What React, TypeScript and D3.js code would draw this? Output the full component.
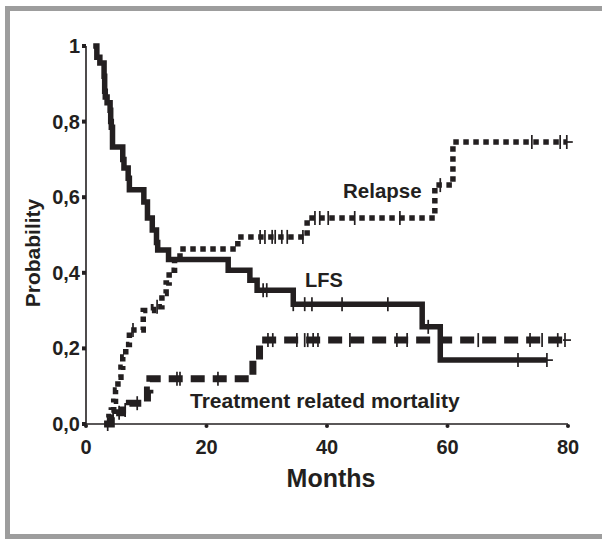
import React from 'react'
import * as d3 from 'd3'

// Kaplan-Meier style step curves: time (months) and probability after each step
const lfsTimes = [1.2, 1.8, 2.3, 3.0, 3.1, 3.2, 3.5, 4.0, 4.1, 4.2, 4.4, 6.1, 6.3, 7.0, 7.2, 9.6, 10.2, 11.0, 11.7, 11.9, 13.7, 23.6, 27.2, 28.4, 34.4, 55.8, 58.8, 76.5]
const lfsProb = [1.0, 0.97, 0.955, 0.92, 0.88, 0.865, 0.85, 0.83, 0.8, 0.785, 0.733, 0.7, 0.677, 0.65, 0.62, 0.587, 0.545, 0.513, 0.48, 0.46, 0.435, 0.407, 0.38, 0.354, 0.317, 0.257, 0.169, 0.169]
const lfsCensor = [29.4, 30.0, 34.4, 36.3, 37.5, 42.5, 50.1, 56.8, 71.7, 76.5]

const relTimes = [3.2, 3.8, 4.2, 4.6, 4.9, 5.3, 5.8, 6.1, 6.6, 7.2, 9.5, 11.2, 12.6, 13.3, 13.8, 14.7, 15.6, 25.2, 36.7, 57.9, 60.9, 79.8]
const relProb = [0.0, 0.02, 0.037, 0.06, 0.09, 0.124, 0.15, 0.177, 0.21, 0.249, 0.3, 0.31, 0.345, 0.373, 0.407, 0.434, 0.463, 0.495, 0.545, 0.632, 0.746, 0.746]
const relCensor = [3.6, 7.8, 11.8, 28.9, 29.7, 30.9, 31.4, 32.5, 33.4, 36.0, 38.0, 38.8, 40.2, 44.6, 52.1, 58.8, 74.0, 78.7, 79.8]

const trmTimes = [3.0, 4.2, 5.0, 6.0, 7.2, 10.2, 10.6, 27.7, 28.8, 79.5]
const trmProb = [0.0, 0.02, 0.03, 0.037, 0.055, 0.09, 0.12, 0.17, 0.222, 0.222]
const trmCensor = [4.5, 5.5, 6.5, 8.5, 15.1, 15.6, 21.9, 30.2, 31.0, 35.0, 36.3, 36.8, 37.7, 38.5, 43.8, 51.6, 53.3, 58.8, 65.1, 73.7, 75.7, 78.3, 79.5]

const xTicks = [0, 20, 40, 60, 80]
const yTicks = [0, 0.2, 0.4, 0.6, 0.8, 1]
const yTickLabels = ['0,0', '0,2', '0,4', '0,6', '0,8', '1']

const ink = '#231f20'
const font = '"Liberation Sans", Arial, sans-serif'

const x = d3.scaleLinear().domain([0, 80]).range([86, 568])
const y = d3.scaleLinear().domain([0, 1]).range([424, 46])

const stepLine = d3
    .line<[number, number]>()
    .x((d) => x(d[0]))
    .y((d) => y(d[1]))
    .curve(d3.curveStepAfter)

const stepAt = (times: number[], probs: number[], t: number) => {
    let p = probs[0]
    times.forEach((tt, i) => {
        if (tt <= t) p = probs[i]
    })
    return p
}

const Curve = ({ times, probs, censor, width, dash }: { times: number[]; probs: number[]; censor: number[]; width: number; dash?: string }) => {
    const pts = times.map((t, i) => [t, probs[i]] as [number, number])
    const end = times[times.length - 1]
    return (
        <g>
            <path d={stepLine(pts) || ''} fill="none" stroke={ink} strokeWidth={width} strokeDasharray={dash} />
            {censor.map((t, i) => {
                const cx = x(t)
                const cy = y(stepAt(times, probs, t))
                return (
                    <g key={i}>
                        <line x1={cx} x2={cx} y1={cy - 7} y2={cy + 7} stroke={ink} strokeWidth={1.7} />
                        {t === end && <line x1={cx - 2} x2={cx + 6} y1={cy} y2={cy} stroke={ink} strokeWidth={1.7} />}
                    </g>
                )
            })}
        </g>
    )
}

export default function App() {
    return (
        <div style={{ position: 'fixed', left: 0, top: 0 }}>
            <svg width={602} height={539} style={{ display: 'block', background: '#fff' }}>
                {/* gray frame */}
                <rect x={7.5} y={8.5} width={610} height={528} fill="#fff" stroke="#9d9d9d" strokeWidth={5} />

                {/* axes */}
                <line x1={x(0)} x2={x(0)} y1={y(1)} y2={y(0)} stroke={ink} strokeWidth={1.6} />
                <line x1={x(0)} x2={x(80)} y1={y(0)} y2={y(0)} stroke={ink} strokeWidth={1.6} />
                {yTicks.map((t, i) => (
                    <g key={'y' + t}>
                        <rect x={x(0) - 4} y={y(t) - 2} width={4} height={4} fill={ink} />
                        <text x={80} y={y(t) + 7} textAnchor="end" fontFamily={font} fontWeight="bold" fontSize={20} fill={ink}>
                            {yTickLabels[i]}
                        </text>
                    </g>
                ))}
                {xTicks.map((t) => (
                    <g key={'x' + t}>
                        <circle cx={x(t)} cy={y(0) + 2} r={2} fill={ink} />
                        <text x={x(t)} y={454} textAnchor="middle" fontFamily={font} fontWeight="bold" fontSize={20} fill={ink}>
                            {t}
                        </text>
                    </g>
                ))}
                <text x={331} y={487} textAnchor="middle" fontFamily={font} fontWeight="bold" fontSize={25} fill={ink}>
                    Months
                </text>
                <text transform="translate(40,253) rotate(-90)" textAnchor="middle" fontFamily={font} fontWeight="bold" fontSize={21} fill={ink}>
                    Probability
                </text>

                {/* curves */}
                <Curve times={trmTimes} probs={trmProb} censor={trmCensor} width={7} dash="14 8" />
                <Curve times={relTimes} probs={relProb} censor={relCensor} width={5.5} dash="5.5 4.5" />
                <Curve times={lfsTimes} probs={lfsProb} censor={lfsCensor} width={5.5} />

                {/* annotations */}
                <text x={343} y={198} fontFamily={font} fontWeight="bold" fontSize={20.5} fill={ink}>
                    Relapse
                </text>
                <text x={305} y={287} fontFamily={font} fontWeight="bold" fontSize={20} fill={ink}>
                    LFS
                </text>
                <text x={190} y={408} fontFamily={font} fontWeight="bold" fontSize={21} fill={ink}>
                    Treatment related mortality
                </text>
            </svg>
        </div>
    )
}
